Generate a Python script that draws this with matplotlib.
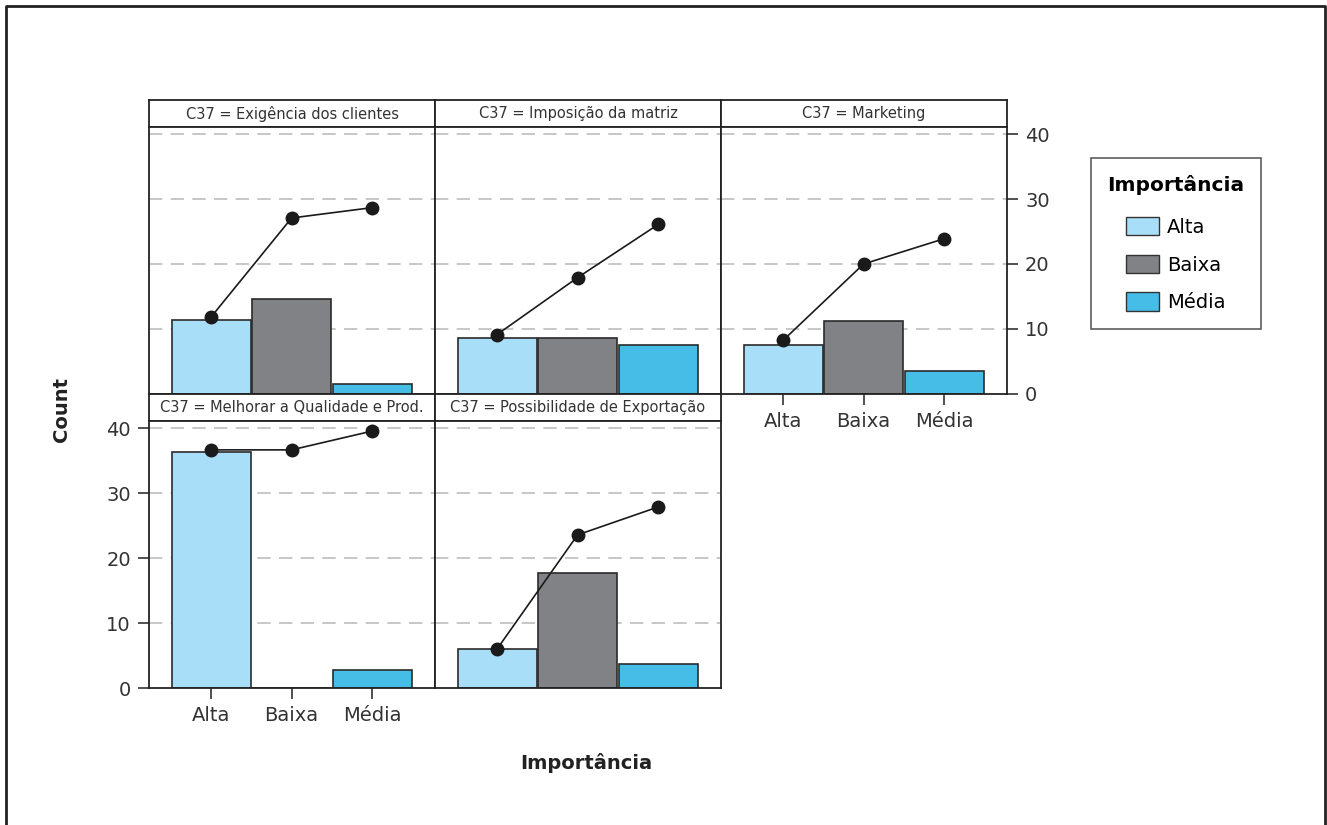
import matplotlib
matplotlib.use('Agg')
import matplotlib.pyplot as plt
from matplotlib.lines import Line2D
import matplotlib.patches as mp

plt.rcParams['font.family'] = ['DejaVu Sans']

categories = ['Alta', 'Baixa', 'Média']
colors = ['#a9def9', '#808285', '#45bde6']

panel_titles = ['C37 = Exigência dos clientes', 'C37 = Imposição da matriz', 'C37 = Marketing',
                'C37 = Melhorar a Qualidade e Prod.', 'C37 = Possibilidade de Exportação']

# bar heights per panel (Alta, Baixa, Média)
bars_exigencia = [11.4, 14.6, 1.4]
bars_imposicao = [8.5, 8.6, 7.5]
bars_marketing = [7.5, 11.2, 3.4]
bars_qualidade = [36.4, 0.0, 2.8]
bars_exportacao = [6.0, 17.8, 3.7]

# line points per panel
line_exigencia = [11.8, 27.1, 28.7]
line_imposicao = [9.1, 17.9, 26.1]
line_marketing = [8.2, 20.0, 23.9]
line_qualidade = [36.7, 36.7, 39.6]
line_exportacao = [6.0, 23.6, 27.9]

bar_sets = [bars_exigencia, bars_imposicao, bars_marketing, bars_qualidade, bars_exportacao]
line_sets = [line_exigencia, line_imposicao, line_marketing, line_qualidade, line_exportacao]

W, H = 1327, 825
fig = plt.figure(figsize=(W / 100, H / 100), dpi=100)


def box(x0, y0, x1, y1):
    return [x0 / W, 1 - y1 / H, (x1 - x0) / W, (y1 - y0) / H]


cols = [(149, 435), (435, 721), (721, 1007)]
rows = [(100, 127, 393.5), (394, 421, 688)]
positions = [(0, 0), (0, 1), (0, 2), (1, 0), (1, 1)]
x = range(len(categories))

for i, (r, c) in enumerate(positions):
    x0, x1 = cols[c]
    s0, p0, p1 = rows[r]

    strip = fig.add_axes(box(x0, s0, x1, p0))
    strip.set_xticks([])
    strip.set_yticks([])
    for sp in strip.spines.values():
        sp.set_color('#222222')
        sp.set_linewidth(1.3)
    strip.text(0.5, 0.5, panel_titles[i], ha='center', va='center', fontsize=10.5, color='#333333')

    ax = fig.add_axes(box(x0, p0, x1, p1))
    ax.set_xlim(-0.77, 2.78)
    ax.set_ylim(0, 41.15)
    for yv in [10, 20, 30, 40]:
        ax.axhline(yv, color='#bdbdbd', lw=1.2, dashes=(8, 5), zorder=0)
    ax.bar(x, bar_sets[i], width=0.98, color=colors, edgecolor='#2b2b2b', linewidth=1.2, zorder=2)
    ax.plot(x, line_sets[i], color='#1a1a1a', lw=1.2, marker='o', ms=9, zorder=3)
    for sp in ax.spines.values():
        sp.set_color('#222222')
        sp.set_linewidth(1.3)

    ax.set_yticks([0, 10, 20, 30, 40])
    ax.set_xticks(list(x))
    ax.set_xticklabels(categories)
    ax.tick_params(axis='both', direction='out', length=8, width=1.2, color='#333333',
                   labelsize=14, labelcolor='#333333', pad=5)

    if (r, c) == (0, 2):
        ax.yaxis.tick_right()
    elif (r, c) == (1, 0):
        ax.yaxis.tick_left()
    else:
        ax.tick_params(axis='y', left=False, labelleft=False)
    if (r, c) not in [(0, 2), (1, 0)]:
        ax.tick_params(axis='x', bottom=False, labelbottom=False)

fig.text(62 / W, 1 - 410 / H, 'Count', rotation=90, ha='center', va='center',
         fontsize=14, fontweight='bold', color='#222222')
fig.text(586 / W, 1 - 763 / H, 'Importância', ha='center', va='center',
         fontsize=14, fontweight='bold', color='#222222')

handles = [mp.Patch(facecolor=colors[k], edgecolor='#333333', label=categories[k]) for k in range(3)]
leg = fig.legend(handles=handles, title='Importância', loc='upper left',
                 bbox_to_anchor=(1091 / W, 1 - 158 / H), borderaxespad=0, fontsize=14,
                 title_fontproperties={'weight': 'bold', 'size': 14.5},
                 frameon=True, fancybox=False, edgecolor='#333333', alignment='center',
                 handlelength=1.65, handleheight=1.1, handletextpad=0.45,
                 borderpad=0.85, labelspacing=0.92)
leg._legend_box.sep = 16
leg.get_frame().set_linewidth(1.2)

# page border (open at the bottom)
fig.add_artist(Line2D([5.5 / W, 5.5 / W, 1324.5 / W, 1324.5 / W],
                      [0, 1 - 5.5 / H, 1 - 5.5 / H, 0], color='#222222', lw=2))

fig.savefig('out.png', dpi=100)
